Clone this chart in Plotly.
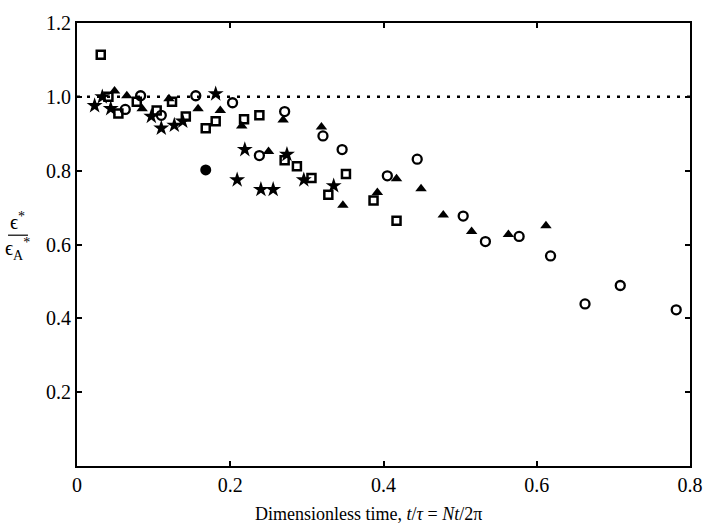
import plotly.graph_objects as go

# ---- data ----
circ_x = [0.063, 0.083, 0.110, 0.155, 0.203, 0.238, 0.271, 0.321, 0.346, 0.405,
          0.444, 0.504, 0.533, 0.577, 0.618, 0.663, 0.709, 0.782]
circ_y = [0.966, 1.003, 0.950, 1.003, 0.984, 0.841, 0.960, 0.894, 0.857, 0.786,
          0.831, 0.677, 0.608, 0.622, 0.569, 0.439, 0.489, 0.423]

dot_x = [0.168]
dot_y = [0.802]

tri_x = [0.049, 0.065, 0.085, 0.120, 0.158, 0.187, 0.215, 0.250, 0.269, 0.319,
         0.347, 0.392, 0.417, 0.449, 0.478, 0.515, 0.563, 0.612]
tri_y = [1.016, 1.003, 0.968, 0.995, 0.968, 0.963, 0.921, 0.852, 0.937, 0.918,
         0.706, 0.741, 0.778, 0.751, 0.680, 0.635, 0.627, 0.651]

sq_x = [0.031, 0.041, 0.054, 0.078, 0.104, 0.124, 0.142, 0.168, 0.181, 0.218,
        0.238, 0.271, 0.287, 0.306, 0.328, 0.351, 0.387, 0.417]
sq_y = [1.114, 1.000, 0.955, 0.987, 0.963, 0.987, 0.947, 0.915, 0.934, 0.939,
        0.950, 0.828, 0.812, 0.780, 0.735, 0.791, 0.719, 0.664]

star_x = [0.023, 0.033, 0.044, 0.097, 0.110, 0.127, 0.138, 0.181, 0.209, 0.219,
          0.240, 0.256, 0.274, 0.296, 0.335]
star_y = [0.976, 1.000, 0.968, 0.947, 0.915, 0.923, 0.934, 1.008, 0.775, 0.857,
          0.749, 0.749, 0.844, 0.775, 0.759]

REF_LEVEL = 1.0
ref_x = [0.0, 0.8]

x_ticks = [0, 0.2, 0.4, 0.6, 0.8]
x_tick_text = ["0", "0.2", "0.4", "0.6", "0.8"]
y_ticks = [0.2, 0.4, 0.6, 0.8, 1.0, 1.2]
y_tick_text = ["0.2", "0.4", "0.6", "0.8", "1.0", "1.2"]

FONT = "Liberation Serif"

fig = go.Figure()

fig.add_trace(go.Scatter(
    x=ref_x, y=[REF_LEVEL] * len(ref_x), mode="lines",
    line=dict(color="black", width=2.5, dash="3px,7px"),
    hoverinfo="skip", showlegend=False))

fig.add_trace(go.Scatter(
    x=circ_x, y=circ_y, mode="markers",
    marker=dict(symbol="circle-open", size=9, color="black",
                line=dict(width=2.3, color="black")),
    showlegend=False))

fig.add_trace(go.Scatter(
    x=dot_x, y=dot_y, mode="markers",
    marker=dict(symbol="circle", size=11, color="black"),
    showlegend=False))

fig.add_trace(go.Scatter(
    x=tri_x, y=tri_y, mode="markers",
    marker=dict(symbol="triangle-up", size=10, color="black",
                line=dict(width=0)),
    showlegend=False))

fig.add_trace(go.Scatter(
    x=sq_x, y=sq_y, mode="markers",
    marker=dict(symbol="square-open", size=8, color="black",
                line=dict(width=2.5, color="black")),
    showlegend=False))

fig.add_trace(go.Scatter(
    x=star_x, y=star_y, mode="markers",
    marker=dict(symbol="star", size=12, color="black", line=dict(width=0)),
    showlegend=False))

axis_common = dict(
    showgrid=False, zeroline=False, showline=True, linecolor="black",
    linewidth=2, mirror="ticks", ticks="inside", ticklen=5, tickwidth=1.5,
    tickcolor="black", tickfont=dict(family=FONT, size=20, color="black"),
)

fig.update_xaxes(range=[0, 0.8], tickvals=x_ticks, ticktext=x_tick_text,
                 **axis_common)
fig.update_yaxes(range=[0, 1.2], tickvals=y_ticks, ticktext=y_tick_text,
                 **axis_common)

fig.update_layout(
    width=715, height=529,
    margin=dict(l=77, r=14, t=12, b=63),
    plot_bgcolor="white", paper_bgcolor="white",
    font=dict(family=FONT, color="black"),
    annotations=[
        dict(text="Dimensionless time, <i>t</i>/<i>τ</i> = <i>Nt</i>/2π",
             xref="paper", yref="paper", x=0.476, y=-0.108,
             xanchor="center", yanchor="middle", showarrow=False,
             font=dict(family=FONT, size=18, color="black")),
        dict(text="ϵ<sup>*</sup>", xref="paper", yref="paper",
             x=-0.097, y=0.553, xanchor="center", yanchor="middle",
             showarrow=False, font=dict(family=FONT, size=20, color="black")),
        dict(text="ϵ<sub>A</sub><sup>*</sup>", xref="paper", yref="paper",
             x=-0.097, y=0.489, xanchor="center", yanchor="middle",
             showarrow=False, font=dict(family=FONT, size=20, color="black")),
    ],
    shapes=[dict(type="line", xref="paper", yref="paper",
                 x0=-0.1125, x1=-0.080, y0=0.521, y1=0.521,
                 line=dict(color="black", width=1.2))],
)

fig.write_html("out.html")
